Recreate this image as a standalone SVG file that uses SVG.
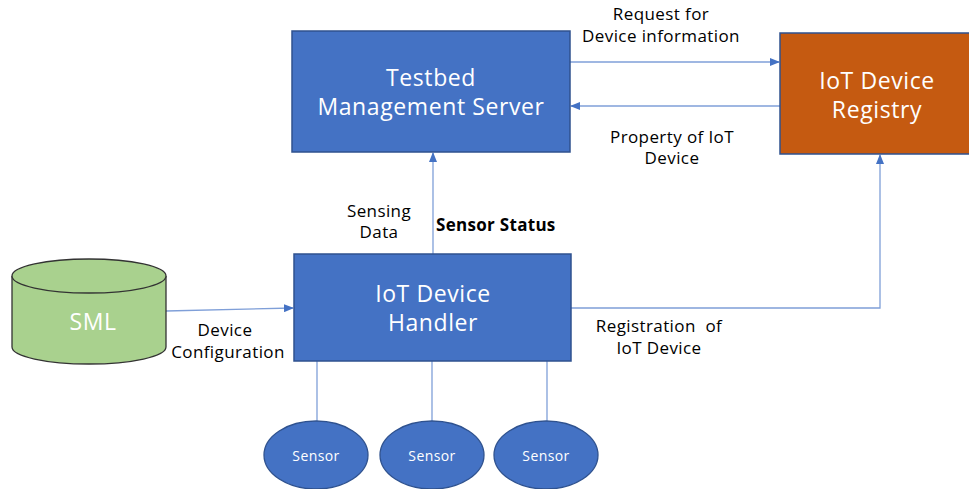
<svg xmlns="http://www.w3.org/2000/svg" width="969" height="489" viewBox="0 0 969 489">
<defs>
<marker id="arr" markerWidth="10" markerHeight="8" refX="9" refY="4" orient="auto" markerUnits="userSpaceOnUse">
<path d="M0,0 L10,4 L0,8 Z" fill="#4472C4"/>
</marker>
<style>
.box{fill:#4472C4;stroke:#2F528F;stroke-width:1.5}
.lbl{font-family:"Open Sans","Noto Sans",sans-serif;fill:#fff;text-anchor:middle}
.big{font-size:23px;letter-spacing:0.6px}
.sen{font-size:14px;letter-spacing:0.4px}
.cap{font-family:"Open Sans","Noto Sans",sans-serif;font-size:17px;letter-spacing:0.4px;fill:#000;text-anchor:middle}
.con{stroke:#7F9FD8;stroke-width:1.3;fill:none}
</style>
</defs>
<rect width="969" height="489" fill="#fff"/>
<g id="connectors">
<line class="con" x1="570" y1="62" x2="779" y2="62" marker-end="url(#arr)"/>
<line class="con" x1="780" y1="106" x2="571" y2="106" marker-end="url(#arr)"/>
<line class="con" x1="433" y1="254" x2="433" y2="153" marker-end="url(#arr)"/>
<line class="con" x1="166" y1="311" x2="293" y2="308" marker-end="url(#arr)"/>
<polyline class="con" points="571,308 880,308 880,155" marker-end="url(#arr)"/>
<line class="con" x1="317" y1="361" x2="317" y2="421"/>
<line class="con" x1="432" y1="361" x2="432" y2="421"/>
<line class="con" x1="547" y1="361" x2="547" y2="421"/>
</g>
<g id="testbed">
<rect class="box" x="292" y="31" width="278" height="121"/>
<text class="lbl big" x="431" y="86">Testbed</text>
<text class="lbl big" x="431" y="115">Management Server</text>
</g>
<g id="registry">
<rect x="780" y="33" width="190" height="121" fill="#C55A11" stroke="#2F528F" stroke-width="1.5"/>
<text class="lbl big" x="877" y="89">IoT Device</text>
<text class="lbl big" x="877" y="118">Registry</text>
</g>
<g id="handler">
<rect class="box" x="294" y="254" width="277" height="107"/>
<text class="lbl big" x="433" y="302">IoT Device</text>
<text class="lbl big" x="433" y="331">Handler</text>
</g>
<g id="sml">
<path d="M12,276 L12,347 A77,17 0 0 0 166,347 L166,276" fill="#A9D18E" stroke="#333" stroke-width="1.3"/>
<ellipse cx="89" cy="276" rx="77" ry="17" fill="#A9D18E" stroke="#333" stroke-width="1.3"/>
<text class="lbl big" x="93" y="330">SML</text>
</g>
<g id="sensor1">
<ellipse cx="316" cy="455" rx="52" ry="34" fill="#4472C4" stroke="#2F528F" stroke-width="1.3"/>
<text class="lbl sen" x="316" y="461">Sensor</text>
</g>
<g id="sensor2">
<ellipse cx="432" cy="455" rx="52" ry="34" fill="#4472C4" stroke="#2F528F" stroke-width="1.3"/>
<text class="lbl sen" x="432" y="461">Sensor</text>
</g>
<g id="sensor3">
<ellipse cx="546" cy="455" rx="52" ry="34" fill="#4472C4" stroke="#2F528F" stroke-width="1.3"/>
<text class="lbl sen" x="546" y="461">Sensor</text>
</g>
<g id="labels">
<text class="cap" x="661" y="20">Request for</text>
<text class="cap" x="661" y="42">Device information</text>
<text class="cap" x="672" y="143">Property of IoT</text>
<text class="cap" x="672" y="164">Device</text>
<text class="cap" x="379" y="217">Sensing</text>
<text class="cap" x="379" y="238">Data</text>
<text class="cap" x="436" y="231" font-weight="bold" style="text-anchor:start;letter-spacing:0.3px">Sensor Status</text>
<text class="cap" x="225" y="336">Device</text>
<text class="cap" x="228" y="358">Configuration</text>
<text class="cap" x="659" y="332" xml:space="preserve">Registration  of</text>
<text class="cap" x="659" y="354">IoT Device</text>
</g>
</svg>
